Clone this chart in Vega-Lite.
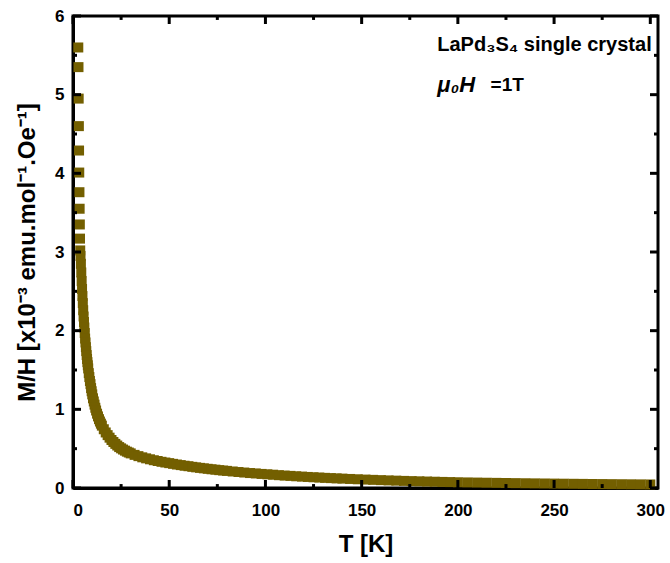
{
  "$schema": "https://vega.github.io/schema/vega-lite/v6.json",
  "width": 585,
  "height": 472,
  "autosize": "none",
  "padding": {"left": 73, "top": 16, "right": 12, "bottom": 75},
  "background": "white",
  "config": {
    "view": {"stroke": "black", "strokeWidth": 3},
    "axis": {
      "domainColor": "black", "domainWidth": 3, "ticks": false,
      "labelFont": "Liberation Sans", "labelFontWeight": "bold", "labelFontSize": 17, "labelColor": "black",
      "titleFont": "Liberation Sans", "titleFontWeight": "bold", "titleFontSize": 24, "titleColor": "black",
      "grid": false, "zindex": 1
    }
  },
  "datasets": {
    "mh": [
      {"T": 2.75, "v": 5.60}, {"T": 2.85, "v": 5.35}, {"T": 2.95, "v": 4.95}, {"T": 3.05, "v": 4.60},
      {"T": 3.15, "v": 4.29}, {"T": 3.25, "v": 4.01}, {"T": 3.35, "v": 3.76}, {"T": 3.45, "v": 3.55},
      {"T": 3.55, "v": 3.35}, {"T": 3.65, "v": 3.17}, {"T": 3.75, "v": 3.02},
      {"T": 3.9, "v": 2.95}, {"T": 4.1, "v": 2.85}, {"T": 4.3, "v": 2.74}, {"T": 4.5, "v": 2.63},
      {"T": 4.7, "v": 2.53}, {"T": 4.9, "v": 2.44}, {"T": 5.1, "v": 2.35}, {"T": 5.3, "v": 2.26},
      {"T": 5.5, "v": 2.18}, {"T": 5.7, "v": 2.11}, {"T": 5.9, "v": 2.04}, {"T": 6.1, "v": 1.97},
      {"T": 6.3, "v": 1.90}, {"T": 6.5, "v": 1.85}, {"T": 6.7, "v": 1.79}, {"T": 6.9, "v": 1.74},
      {"T": 7.1, "v": 1.69}, {"T": 7.3, "v": 1.64}, {"T": 7.5, "v": 1.60}, {"T": 7.7, "v": 1.56},
      {"T": 7.9, "v": 1.52}, {"T": 8.2, "v": 1.46}, {"T": 8.5, "v": 1.41}, {"T": 8.8, "v": 1.36},
      {"T": 9.1, "v": 1.32}, {"T": 9.4, "v": 1.27}, {"T": 9.7, "v": 1.23}, {"T": 10.0, "v": 1.19},
      {"T": 10.4, "v": 1.14}, {"T": 10.8, "v": 1.10}, {"T": 11.2, "v": 1.06}, {"T": 11.6, "v": 1.02},
      {"T": 12.0, "v": 0.985}, {"T": 12.5, "v": 0.945}, {"T": 13.0, "v": 0.91}, {"T": 13.5, "v": 0.875},
      {"T": 14.0, "v": 0.845}, {"T": 14.5, "v": 0.818}, {"T": 15, "v": 0.793}, {"T": 16, "v": 0.747},
      {"T": 17, "v": 0.706}, {"T": 18, "v": 0.672}, {"T": 19, "v": 0.640}, {"T": 20, "v": 0.61},
      {"T": 21, "v": 0.585}, {"T": 22, "v": 0.561}, {"T": 23, "v": 0.540}, {"T": 24, "v": 0.520},
      {"T": 25, "v": 0.504}, {"T": 26, "v": 0.489}, {"T": 27, "v": 0.475}, {"T": 28, "v": 0.462},
      {"T": 29, "v": 0.451}, {"T": 30, "v": 0.440}, {"T": 32, "v": 0.421}, {"T": 34, "v": 0.405},
      {"T": 36, "v": 0.390}, {"T": 38, "v": 0.377}, {"T": 40, "v": 0.365}, {"T": 42, "v": 0.353},
      {"T": 44, "v": 0.343}, {"T": 46, "v": 0.333}, {"T": 48, "v": 0.324}, {"T": 50, "v": 0.316},
      {"T": 52, "v": 0.307}, {"T": 54, "v": 0.2985}, {"T": 56, "v": 0.291}, {"T": 58, "v": 0.283},
      {"T": 60, "v": 0.277}, {"T": 62, "v": 0.269}, {"T": 64, "v": 0.2625}, {"T": 66, "v": 0.256},
      {"T": 68, "v": 0.25}, {"T": 70, "v": 0.244}, {"T": 72, "v": 0.238}, {"T": 74, "v": 0.233},
      {"T": 76, "v": 0.227}, {"T": 78, "v": 0.222}, {"T": 80, "v": 0.2175}, {"T": 83, "v": 0.21},
      {"T": 86, "v": 0.203}, {"T": 89, "v": 0.1965}, {"T": 92, "v": 0.190}, {"T": 95, "v": 0.185},
      {"T": 98, "v": 0.179}, {"T": 101, "v": 0.174}, {"T": 104, "v": 0.169}, {"T": 107, "v": 0.163},
      {"T": 110, "v": 0.158}, {"T": 113, "v": 0.154}, {"T": 116, "v": 0.149}, {"T": 119, "v": 0.145},
      {"T": 122, "v": 0.1405}, {"T": 125, "v": 0.1365}, {"T": 128, "v": 0.133}, {"T": 131, "v": 0.129},
      {"T": 134, "v": 0.1257}, {"T": 137, "v": 0.1223}, {"T": 140, "v": 0.1193}, {"T": 144, "v": 0.115},
      {"T": 148, "v": 0.111}, {"T": 152, "v": 0.107}, {"T": 156, "v": 0.1035}, {"T": 160, "v": 0.100},
      {"T": 164, "v": 0.0966}, {"T": 168, "v": 0.0935}, {"T": 172, "v": 0.0903}, {"T": 176, "v": 0.0875},
      {"T": 180, "v": 0.0848}, {"T": 184, "v": 0.0822}, {"T": 188, "v": 0.0798}, {"T": 192, "v": 0.0774},
      {"T": 196, "v": 0.0752}, {"T": 200, "v": 0.073}, {"T": 205, "v": 0.0709}, {"T": 210, "v": 0.069},
      {"T": 215, "v": 0.067}, {"T": 220, "v": 0.0653}, {"T": 225, "v": 0.0636}, {"T": 230, "v": 0.0619},
      {"T": 235, "v": 0.0603}, {"T": 240, "v": 0.0588}, {"T": 245, "v": 0.0574}, {"T": 250, "v": 0.056},
      {"T": 255, "v": 0.0547}, {"T": 260, "v": 0.0535}, {"T": 265, "v": 0.0523}, {"T": 270, "v": 0.0511},
      {"T": 275, "v": 0.05}, {"T": 280, "v": 0.0489}, {"T": 285, "v": 0.0479}, {"T": 290, "v": 0.0469},
      {"T": 295, "v": 0.0459}, {"T": 300, "v": 0.045}
    ],
    "anchor": [{"T": 0, "v": 0}],
    "xmajor": [{"T": 0}, {"T": 50}, {"T": 100}, {"T": 150}, {"T": 200}, {"T": 250}, {"T": 300}],
    "xminor": [{"T": 25}, {"T": 75}, {"T": 125}, {"T": 175}, {"T": 225}, {"T": 275}],
    "ymajor": [{"v": 0}, {"v": 1}, {"v": 2}, {"v": 3}, {"v": 4}, {"v": 5}, {"v": 6}],
    "yminor": [{"v": 0.5}, {"v": 1.5}, {"v": 2.5}, {"v": 3.5}, {"v": 4.5}, {"v": 5.5}]
  },
  "layer": [
    {
      "data": {"name": "mh"},
      "mark": {"type": "point", "shape": "square", "filled": true, "size": 100, "opacity": 1, "color": "#735f00", "strokeWidth": 0},
      "encoding": {
        "x": {"field": "T", "type": "quantitative", "scale": {"domain": [0, 304], "nice": false, "zero": false},
          "axis": {"orient": "bottom", "values": [0, 50, 100, 150, 200, 250, 300], "format": "d", "labelPadding": 14, "title": "T [K]", "titlePadding": 14}},
        "y": {"field": "v", "type": "quantitative", "scale": {"domain": [0, 6], "nice": false, "zero": false},
          "axis": {"orient": "left", "values": [0, 1, 2, 3, 4, 5, 6], "format": "d", "labelPadding": 9, "title": "M/H [x10⁻³ emu.mol⁻¹.Oe⁻¹]", "titlePadding": 15}}
      }
    },
    {
      "data": {"name": "xmajor"},
      "mark": {"type": "rule", "color": "black", "strokeWidth": 3},
      "encoding": {"x": {"field": "T", "type": "quantitative"}, "y": {"datum": 0}, "y2": {"datum": 0.1017}}
    },
    {
      "data": {"name": "xmajor"},
      "mark": {"type": "rule", "color": "black", "strokeWidth": 3},
      "encoding": {"x": {"field": "T", "type": "quantitative"}, "y": {"datum": 6}, "y2": {"datum": 5.898}}
    },
    {
      "data": {"name": "xminor"},
      "mark": {"type": "rule", "color": "black", "strokeWidth": 3},
      "encoding": {"x": {"field": "T", "type": "quantitative"}, "y": {"datum": 0}, "y2": {"datum": 0.05}}
    },
    {
      "data": {"name": "xminor"},
      "mark": {"type": "rule", "color": "black", "strokeWidth": 3},
      "encoding": {"x": {"field": "T", "type": "quantitative"}, "y": {"datum": 6}, "y2": {"datum": 5.95}}
    },
    {
      "data": {"name": "ymajor"},
      "mark": {"type": "rule", "color": "black", "strokeWidth": 3},
      "encoding": {"y": {"field": "v", "type": "quantitative"}, "x": {"datum": 0}, "x2": {"datum": 4.16}}
    },
    {
      "data": {"name": "ymajor"},
      "mark": {"type": "rule", "color": "black", "strokeWidth": 3},
      "encoding": {"y": {"field": "v", "type": "quantitative"}, "x": {"datum": 304}, "x2": {"datum": 299.84}}
    },
    {
      "data": {"name": "yminor"},
      "mark": {"type": "rule", "color": "black", "strokeWidth": 3},
      "encoding": {"y": {"field": "v", "type": "quantitative"}, "x": {"datum": 0}, "x2": {"datum": 2.08}}
    },
    {
      "data": {"name": "yminor"},
      "mark": {"type": "rule", "color": "black", "strokeWidth": 3},
      "encoding": {"y": {"field": "v", "type": "quantitative"}, "x": {"datum": 304}, "x2": {"datum": 301.92}}
    },
    {
      "data": {"name": "anchor"},
      "mark": {"type": "text", "align": "left", "baseline": "middle", "font": "Liberation Sans", "fontWeight": "bold", "fontSize": 20, "color": "black"},
      "encoding": {
        "x": {"datum": 189.3, "type": "quantitative"},
        "y": {"datum": 5.63, "type": "quantitative"},
        "text": {"value": "LaPd₃S₄ single crystal"}
      }
    },
    {
      "data": {"name": "anchor"},
      "mark": {"type": "text", "align": "left", "baseline": "middle", "font": "Liberation Sans", "fontWeight": "bold", "fontStyle": "italic", "fontSize": 22, "color": "black"},
      "encoding": {
        "x": {"datum": 189.3, "type": "quantitative"},
        "y": {"datum": 5.12, "type": "quantitative"},
        "text": {"value": "μ₀H"}
      }
    },
    {
      "data": {"name": "anchor"},
      "mark": {"type": "text", "align": "left", "baseline": "middle", "font": "Liberation Sans", "fontWeight": "bold", "fontSize": 19, "color": "black"},
      "encoding": {
        "x": {"datum": 217, "type": "quantitative"},
        "y": {"datum": 5.12, "type": "quantitative"},
        "text": {"value": "=1T"}
      }
    }
  ]
}
